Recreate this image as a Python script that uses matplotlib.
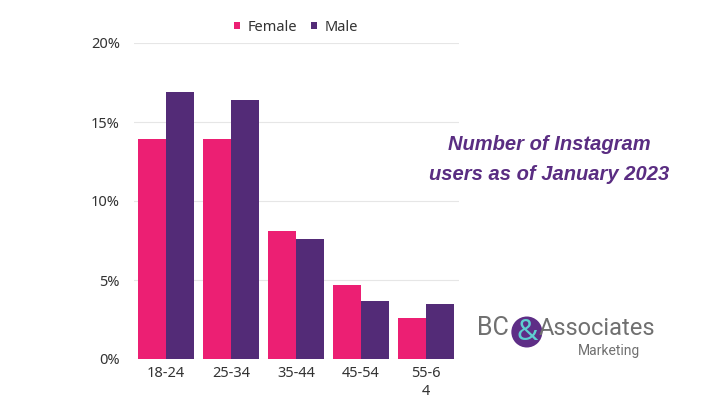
import matplotlib.pyplot as plt
import numpy as np
from matplotlib.patches import Circle

age_groups = ['18-24', '25-34', '35-44', '45-54', '55-6\n4']
female = [13.9, 13.9, 8.1, 4.7, 2.6]
male = [16.9, 16.4, 7.6, 3.7, 3.5]
pink = '#EC1F73'
purple = '#532B77'

plt.rcParams['font.family'] = ['Noto Sans', 'DejaVu Sans']

fig = plt.figure(figsize=(7.11, 4.0), dpi=100)
ax = fig.add_axes([0.188, 0.1025, 0.457, 0.79])

x = np.arange(len(age_groups))
w = 0.43
ax.bar(x - w / 2 - 0.005, female, w, color=pink, label='Female', zorder=3)
ax.bar(x + w / 2 + 0.005, male, w, color=purple, label='Male', zorder=3)

ax.set_xlim(-0.5, 4.5)
ax.set_ylim(0, 20)
ax.set_yticks([0, 5, 10, 15, 20])
ax.set_yticklabels(['0%', '5%', '10%', '15%', '20%'])
ax.set_xticks(x)
ax.set_xticklabels(age_groups, linespacing=1.25)
ax.tick_params(length=0, labelsize=10.5, colors='#333333')
ax.tick_params(axis='y', pad=10)
ax.tick_params(axis='x', pad=5)
ax.yaxis.grid(True, color='#e6e6e6', linewidth=0.8, zorder=0)
for s in ax.spines.values():
    s.set_visible(False)

ax.legend(loc='lower center', bbox_to_anchor=(0.5, 0.985), ncol=2, frameon=False,
          fontsize=10.5, handlelength=0.4, handleheight=0.4, handletextpad=0.5,
          columnspacing=1.0, labelcolor='#333333')

title_font = dict(family='Liberation Sans', weight='bold', style='italic',
                  color='#5A2D82', fontsize=14.5, ha='center', va='center')
fig.text(0.773, 0.638, 'Number of Instagram', **title_font)
fig.text(0.773, 0.563, 'users as of January 2023', **title_font)

# logo
fig.text(0.671, 0.163, 'BC', fontsize=18, color='#707070', va='baseline', ha='left',
         family='Roboto')
circ = Circle((0.741 * 7.11, 0.17 * 4.0), 0.155, transform=fig.dpi_scale_trans,
              facecolor='#5E2E86', edgecolor='none')
fig.patches.append(circ)
fig.text(0.741, 0.17, '&', fontsize=21, color='#5ECFD0', weight='bold',
         ha='center', va='center')
fig.text(0.758, 0.163, 'Associates', fontsize=17, color='#707070', va='baseline', ha='left',
         family='Roboto')
fig.text(0.9, 0.113, 'Marketing', fontsize=10, color='#707070', va='baseline', ha='right',
         family='Roboto')

fig.savefig('out.png', dpi=100)
